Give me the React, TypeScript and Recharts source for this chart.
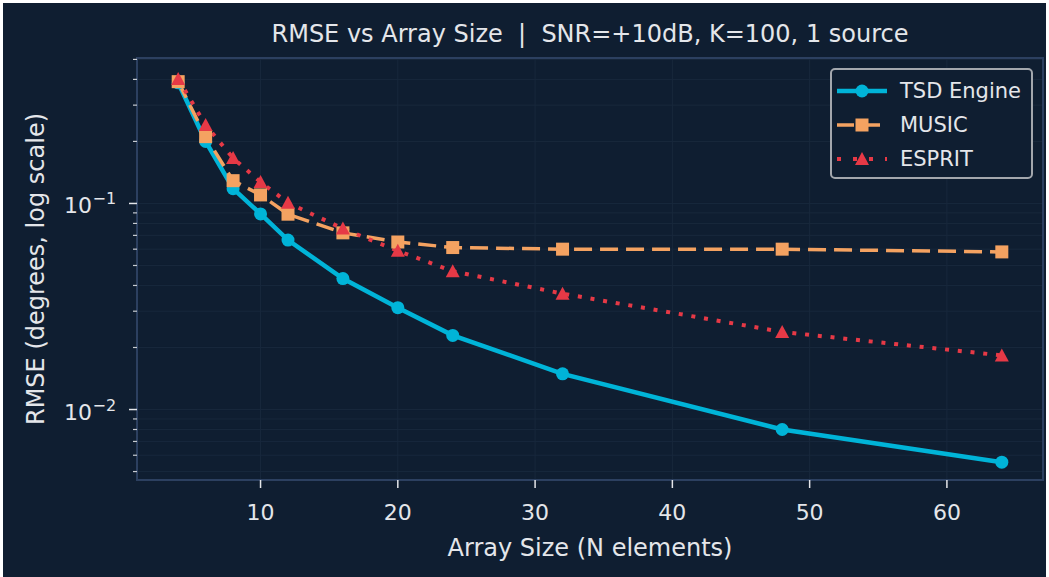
import { LineChart, Line, XAxis, YAxis, CartesianGrid, Legend, ReferenceArea } from 'recharts';

const sizes = [4, 6, 8, 10, 12, 16, 20, 24, 32, 48, 64];
const tsdRmse = [0.385, 0.2, 0.118, 0.089, 0.0664, 0.0432, 0.0312, 0.0229, 0.0149, 0.008, 0.00555];
const musicRmse = [0.39, 0.211, 0.129, 0.11, 0.0887, 0.072, 0.065, 0.0611, 0.06, 0.06, 0.0582];
const espritRmse = [0.402, 0.24, 0.166, 0.127, 0.1007, 0.0755, 0.0589, 0.0469, 0.0365, 0.0238, 0.0183];

const xTicks = [10, 20, 30, 40, 50, 60];
const yMajor = [0.01, 0.1];
const yMinor = [0.005, 0.006, 0.007, 0.008, 0.009, 0.02, 0.03, 0.04, 0.05, 0.06, 0.07, 0.08, 0.09, 0.2, 0.3, 0.4, 0.5];
const yMajorLabels = ['\u22122', '\u22121'];

const X_DOMAIN = [1, 67];
const Y_DOMAIN = [0.00455, 0.508];

const BG = '#0f1e31';
const GRID = '#18283c';
const SPINE = '#2c4060';
const TEXT = '#e4e6ea';
const FONT = '"DejaVu Sans", sans-serif';

const CYAN = '#00b4d8';
const ORANGE = '#f4a261';
const RED = '#e63946';

const data = sizes.map((n, i) => ({
  n,
  tsd: tsdRmse[i],
  music: musicRmse[i],
  esprit: espritRmse[i],
}));

const yTicks = [...yMinor, ...yMajor].sort((a, b) => a - b);

function Circle({ cx, cy, color }: any) {
  return <circle cx={cx} cy={cy} r={6.5} fill={color} />;
}
function Square({ cx, cy, color }: any) {
  return <rect x={cx - 6.5} y={cy - 6.5} width={13} height={13} fill={color} />;
}
function Triangle({ cx, cy, color }: any) {
  return <polygon points={`${cx},${cy - 7} ${cx - 7},${cy + 6} ${cx + 7},${cy + 6}`} fill={color} />;
}

const YTick = (props: any) => {
  const { x, y, payload } = props;
  const idx = yMajor.indexOf(payload.value);
  const major = idx >= 0;
  return (
    <g>
      <line x1={x} x2={x - (major ? 8 : 4)} y1={y} y2={y} stroke={major ? TEXT : '#c8ccd2'} strokeWidth={major ? 1.5 : 1.2} />
      {major && (
        <text x={x - 45} y={y + 10} fill={TEXT} fontFamily={FONT} fontSize={22} textAnchor="end">
          10
        </text>
      )}
      {major && (
        <text x={x - 44.5} y={y + 1} fill={TEXT} fontFamily={FONT} fontSize={16} textAnchor="start">
          {yMajorLabels[idx]}
        </text>
      )}
    </g>
  );
};

const XTick = (props: any) => {
  const { x, y, payload } = props;
  return (
    <g>
      <line x1={x} x2={x} y1={y} y2={y + 8} stroke={TEXT} strokeWidth={1.5} />
      <text x={x} y={y + 40} fill={TEXT} fontFamily={FONT} fontSize={22} textAnchor="middle">
        {payload.value}
      </text>
    </g>
  );
};

const legendItems = [
  { name: 'TSD Engine', color: CYAN, dash: undefined, width: 4.5, Marker: Circle },
  { name: 'MUSIC', color: ORANGE, dash: '17 9', width: 3.5, Marker: Square },
  { name: 'ESPRIT', color: RED, dash: '4 12', width: 4, Marker: Triangle },
];

const LegendBox = () => (
  <div
    style={{
      position: 'relative',
      width: 199,
      height: 107,
      border: '2px solid #a3a7ad',
      borderRadius: 5,
      background: BG,
      boxSizing: 'content-box',
      fontFamily: FONT,
    }}
  >
    {legendItems.map((it, i) => (
      <div key={it.name} style={{ position: 'absolute', left: 5, top: 4 + i * 34, height: 34, display: 'flex', alignItems: 'center' }}>
        <svg width={63} height={34}>
          <line x1={0} x2={50} y1={17} y2={17} stroke={it.color} strokeWidth={it.width} strokeDasharray={it.dash} />
          <it.Marker cx={25} cy={17} color={it.color} />
        </svg>
        <span style={{ color: TEXT, fontSize: 21 }}>{it.name}</span>
      </div>
    ))}
  </div>
);

export default function App() {
  return (
    <div style={{ position: 'fixed', left: 0, top: 0, width: 1049, height: 577, background: '#ffffff' }}>
      <div style={{ position: 'absolute', left: 3, top: 3, width: 1043, height: 574, background: BG }}>
        <div
          style={{
            position: 'absolute',
            left: 134,
            width: 906,
            top: 17,
            textAlign: 'center',
            color: TEXT,
            fontFamily: FONT,
            fontSize: 24,
            lineHeight: '28px',
            whiteSpace: 'pre',
          }}
        >
          {'RMSE vs Array Size  |  SNR=+10dB, K=100, 1 source'}
        </div>
        <div
          style={{
            position: 'absolute',
            left: 134,
            width: 906,
            top: 531,
            textAlign: 'center',
            color: TEXT,
            fontFamily: FONT,
            fontSize: 24,
            lineHeight: '28px',
          }}
        >
          Array Size (N elements)
        </div>
        <div
          style={{
            position: 'absolute',
            left: 33 - 200,
            width: 400,
            top: 266 - 14,
            textAlign: 'center',
            color: TEXT,
            fontFamily: FONT,
            fontSize: 24,
            transform: 'rotate(-90deg)',
            transformOrigin: '50% 50%',
            lineHeight: '28px',
          }}
        >
          RMSE (degrees, log scale)
        </div>
        <LineChart width={1043} height={574} data={data} margin={{ top: 55, right: 3, bottom: 0, left: 0 }}>
          <CartesianGrid stroke={GRID} strokeWidth={1} />
          <XAxis
            dataKey="n"
            type="number"
            domain={X_DOMAIN}
            allowDataOverflow
            ticks={xTicks}
            interval={0}
            height={97}
            tickSize={0}
            tickMargin={0}
            tickLine={false}
            axisLine={false}
            tick={<XTick />}
          />
          <YAxis
            type="number"
            scale="log"
            domain={Y_DOMAIN}
            allowDataOverflow
            ticks={yTicks}
            interval={0}
            width={134}
            tickSize={0}
            tickMargin={0}
            tickLine={false}
            axisLine={false}
            tick={<YTick />}
          />
          <ReferenceArea x1={X_DOMAIN[0]} x2={X_DOMAIN[1]} y1={Y_DOMAIN[0]} y2={Y_DOMAIN[1]} fill="none" stroke={SPINE} strokeWidth={2} fillOpacity={0} />
          <Line
            dataKey="tsd"
            name="TSD Engine"
            stroke={CYAN}
            strokeWidth={4.5}
            dot={(p: any) => <Circle key={p.index} cx={p.cx} cy={p.cy} color={CYAN} />}
            isAnimationActive={false}
          />
          <Line
            dataKey="music"
            name="MUSIC"
            stroke={ORANGE}
            strokeWidth={3.5}
            strokeDasharray="18 8"
            dot={(p: any) => <Square key={p.index} cx={p.cx} cy={p.cy} color={ORANGE} />}
            isAnimationActive={false}
          />
          <Line
            dataKey="esprit"
            name="ESPRIT"
            stroke={RED}
            strokeWidth={4}
            strokeDasharray="4 8.8"
            dot={(p: any) => <Triangle key={p.index} cx={p.cx} cy={p.cy} color={RED} />}
            isAnimationActive={false}
          />
          <Legend
            layout="vertical"
            align="center"
            verticalAlign="middle"
            wrapperStyle={{ left: 827, top: 65, width: 203, height: 111 }}
            content={() => <LegendBox />}
          />
        </LineChart>
      </div>
    </div>
  );
}
